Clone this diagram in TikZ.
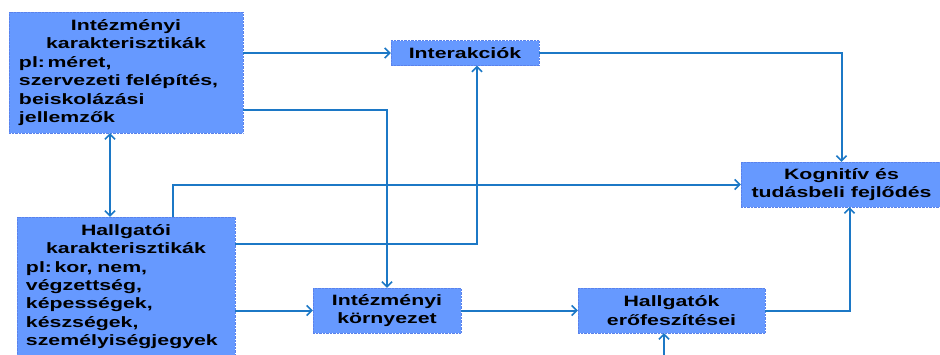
\documentclass[tikz,border=0pt]{standalone}
\usepackage{fontspec}
\setmainfont[FakeStretch=1.42]{Liberation Sans}
\usetikzlibrary{arrows.meta}
\definecolor{boxBlue}{RGB}{102,153,255}
\definecolor{rimBlue}{RGB}{90,130,235}
\definecolor{lineBlue}{RGB}{28,120,198}

\begin{document}
\begin{tikzpicture}[x=1pt, y=-1pt,
		box/.style = {draw=rimBlue, densely dotted, fill=boxBlue, inner sep=0pt, align=center,
			font=\fontsize{15}{18.4}\selectfont\bfseries},
		link/.style = {draw=lineBlue, line width=2pt, solid},
		>={Straight Barb[length=5pt, width=10pt, line width=1.6pt]}]
		\useasboundingbox (0,0) rectangle (940,354);
		%%%%%%%%%%%%%
		\node[box, minimum width=234, minimum height=121, text width=214, align=left] (intkar) at (126,72.5)
			{\centering Intézményi\\ karakterisztikák\par\raggedright pl:\,méret,\\ szervezeti felépítés,\\ beiskolázási\\ jellemzők};
		\node[box, minimum width=218, minimum height=139, text width=200, align=left] (hallkar) at (126,286.5)
			{\centering Hallgatói\\ karakterisztikák\par\raggedright pl:\,kor, nem,\\ végzettség,\\ képességek,\\ készségek,\\ személyiségjegyek};
		\node[box, minimum width=148, minimum height=25] (inter) at (465,53) {Interakciók};
		\node[box, minimum width=148, minimum height=45] (intkorny) at (387,310.5) {Intézményi\\ környezet};
		\node[box, minimum width=187, minimum height=45] (hallerof) at (671.5,310.5) {Hallgatók\\ erőfeszítései};
		\node[box, minimum width=201, minimum height=45] (kogn) at (841.5,184.5) {Kognitív és\\ tudásbeli fejlődés};
		\coordinate (hforras) at (664,360);
		%%%%%%%%%%%%%
		\draw [link, ->] (intkar.east |- inter.west) to (inter.west);
		\draw [link, ->] ([yshift=-37.5pt]intkar.east) -| (intkorny.north);
		\draw [link, <->] ([xshift=-16pt]intkar.south) to ([xshift=-16pt]hallkar.north);
		\draw [link, ->] ([xshift=47pt]hallkar.north) |- (kogn.west);
		\draw [link, ->] ([yshift=42.5pt]hallkar.east) -| ([xshift=12pt]inter.south);
		\draw [link, ->] (hallkar.east |- intkorny.west) to (intkorny.west);
		\draw [link, ->] (inter.east) -| (kogn.north);
		\draw [link, ->] (intkorny.east) to (hallerof.west);
		\draw [link, ->] (hallerof.east) -| ([xshift=8pt]kogn.south);
		\draw [link, ->] (hforras) to (hforras |- hallerof.south);
\end{tikzpicture}
\end{document}
